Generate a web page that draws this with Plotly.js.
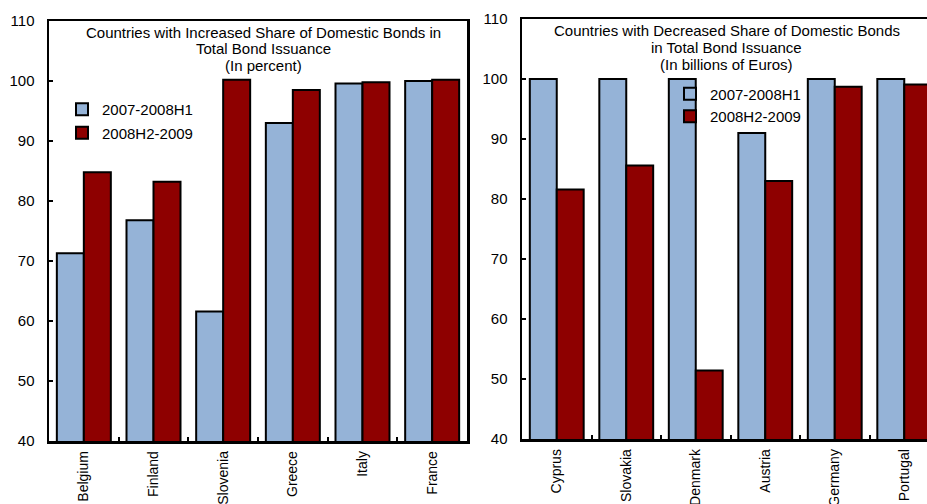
<!DOCTYPE html>
<html>
<head>
<meta charset="utf-8">
<script src="https://cdn.plot.ly/plotly-3.0.1.min.js"></script>
<style>
  html, body { margin: 0; padding: 0; overflow: hidden; background: #fff; }
  #chart { width: 945px; height: 504px; }
</style>
</head>
<body>
<div id="chart"></div>
<script>
// ---- Data ----
const countriesIncreased = ['Belgium', 'Finland', 'Slovenia', 'Greece', 'Italy', 'France'];
const increasedPre  = [71.3, 76.8, 61.6, 93.0, 99.6, 100.0];
const increasedPost = [84.8, 83.2, 100.2, 98.5, 99.8, 100.2];

const countriesDecreased = ['Cyprus', 'Slovakia', 'Denmark', 'Austria', 'Germany', 'Portugal'];
const decreasedPre  = [100.0, 100.0, 100.0, 91.0, 100.0, 100.0];
const decreasedPost = [81.6, 85.6, 51.4, 83.0, 98.7, 99.1];

const seriesNames = ['2007-2008H1', '2008H2-2009'];
const yTicks = [40, 50, 60, 70, 80, 90, 100, 110];

const titleLeft = ['Countries with Increased Share of Domestic Bonds in', 'Total Bond Issuance', '(In percent)'];
const titleRight = ['Countries with Decreased Share of Domestic Bonds', 'in Total Bond Issuance', '(In billions of Euros)'];

// ---- Styles ----
const FONT = 'Liberation Sans, Arial, sans-serif';
const BLUE = '#95B3D7';
const redMarker = {
  color: '#950000',
  line: { color: '#000', width: 2 },
  pattern: { shape: '.', fgcolor: '#5a0000', bgcolor: '#b00000', size: 2, solidity: 0.45, fillmode: 'replace' }
};
const blueMarker = { color: BLUE, line: { color: '#000', width: 2 } };

const traces = [
  { type: 'bar', x: countriesIncreased, y: increasedPre, name: seriesNames[0], marker: blueMarker,
    xaxis: 'x', yaxis: 'y', legend: 'legend', legendgroup: 'a', hoverinfo: 'skip' },
  { type: 'bar', x: countriesIncreased, y: increasedPost, name: seriesNames[1], marker: redMarker,
    xaxis: 'x', yaxis: 'y', legend: 'legend', legendgroup: 'b', hoverinfo: 'skip' },
  { type: 'bar', x: countriesDecreased, y: decreasedPre, name: seriesNames[0], marker: blueMarker,
    xaxis: 'x2', yaxis: 'y2', legend: 'legend2', hoverinfo: 'skip' },
  { type: 'bar', x: countriesDecreased, y: decreasedPost, name: seriesNames[1], marker: redMarker,
    xaxis: 'x2', yaxis: 'y2', legend: 'legend2', hoverinfo: 'skip' }
];

// pixel geometry helpers (layout 945x504, margins l=49 r=6 t=19 b=63)
const W = 945, H = 504, ML = 49, MR = 6, MT = 19, MB = 63;
const PW = W - ML - MR, PH = H - MT - MB;
const px = v => (v - ML) / PW;
const py = v => (H - MB - v) / PH;

const xaxisBase = {
  type: 'category', showline: true, linecolor: '#000', linewidth: 2.5, mirror: true,
  ticks: 'inside', tickson: 'boundaries', ticklen: 4, tickwidth: 2, tickcolor: '#000',
  tickangle: -90, tickfont: { family: FONT, size: 14, color: '#000' },
  showgrid: false, zeroline: false, fixedrange: true, ticklabelstandoff: 2
};
const yaxisBase = {
  range: [40, 110], tickvals: yTicks, ticktext: yTicks.map(String),
  showline: true, linecolor: '#000', linewidth: 2.5, mirror: true,
  ticks: 'inside', ticklen: 4, tickwidth: 2, tickcolor: '#000',
  tickfont: { family: FONT, size: 15, color: '#000' },
  showgrid: false, zeroline: false, fixedrange: true, ticklabelstandoff: 9
};

function titleAnns(lines, cx, ys) {
  return lines.map((t, i) => ({
    text: t, xref: 'paper', yref: 'paper', x: px(cx), y: py(ys[i]),
    xanchor: 'center', yanchor: 'middle', showarrow: false,
    font: { family: FONT, size: 15, color: '#000' }
  }));
}

const layout = {
  width: W, height: H,
  margin: { l: ML, r: MR, t: MT, b: MB, pad: 0 },
  paper_bgcolor: '#fff', plot_bgcolor: '#fff',
  barmode: 'group', bargap: 0.225, bargroupgap: 0,
  font: { family: FONT, color: '#000' },
  xaxis: Object.assign({}, xaxisBase, { domain: [px(49), px(467)], anchor: 'y' }),
  yaxis: Object.assign({}, yaxisBase, { domain: [py(441), py(21)], anchor: 'x' }),
  xaxis2: Object.assign({}, xaxisBase, { domain: [px(522), px(939)], anchor: 'y2' }),
  yaxis2: Object.assign({}, yaxisBase, { domain: [py(439), py(19)], anchor: 'x2' }),
  legend: {
    x: px(62), y: py(93), xanchor: 'left', yanchor: 'top',
    bgcolor: 'rgba(0,0,0,0)', borderwidth: 0, traceorder: 'grouped', tracegroupgap: 1,
    itemwidth: 30, font: { family: FONT, size: 15, color: '#000' }
  },
  legend2: {
    x: px(670), y: py(77.5), xanchor: 'left', yanchor: 'top',
    bgcolor: 'rgba(0,0,0,0)', borderwidth: 0, traceorder: 'normal',
    itemwidth: 30, font: { family: FONT, size: 15, color: '#000' }
  },
  annotations: [].concat(
    titleAnns(titleLeft, 263, [32.5, 48.5, 65]),
    titleAnns(titleRight, 726.5, [31, 47, 64])
  ),
  showlegend: true
};

Plotly.newPlot('chart', traces, layout, { displayModeBar: false, staticPlot: true });
</script>
</body>
</html>
